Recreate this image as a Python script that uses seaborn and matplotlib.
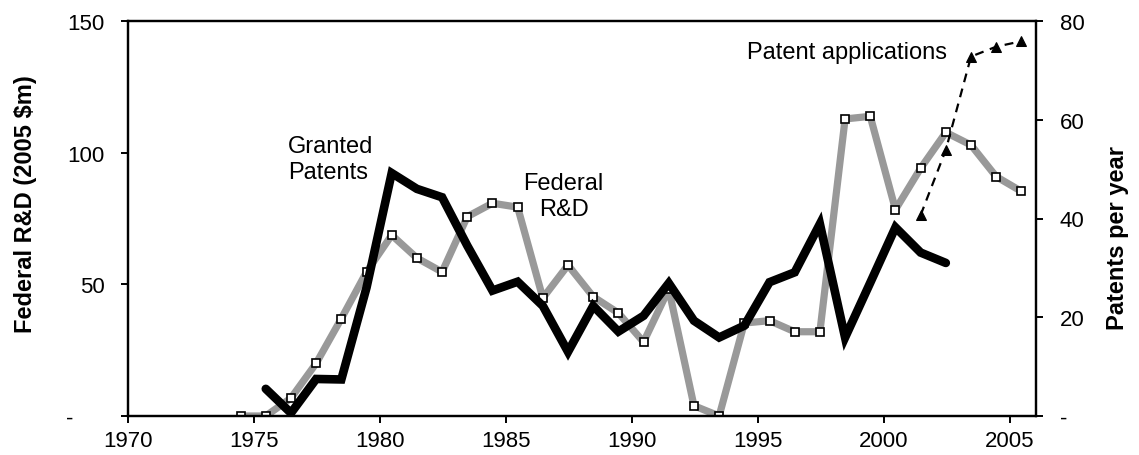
import numpy as np
import pandas as pd
import matplotlib
matplotlib.use("Agg")
import matplotlib.pyplot as plt
import seaborn as sns

# ---- data ----
rd_years = list(range(1974, 2006))
federal_rd = [0, 0, 6.8, 20, 37, 54.7, 68.7, 60, 54.7, 75.7, 80.8, 79.3, 44.8, 57.3,
              45.3, 39.1, 28.1, 48.2, 3.9, 0, 35.3, 36.2, 32, 32, 112.8, 113.8,
              78.4, 94.1, 107.7, 102.9, 90.9, 85.3]

pat_years = list(range(1975, 2003))
granted_patents = [5.5, 0.6, 7.5, 7.4, 26, 49.2, 46, 44.3, 34.5, 25.4, 27.2, 22.3, 13.0,
                   22.3, 17.1, 20.3, 26.9, 19.3, 15.9, 18.3, 27.1, 29.1, 38.9, 15.9,
                   27, 38.2, 33.1, 31.0]

app_years = [2001, 2002, 2003, 2004, 2005]
patent_applications = [40.7, 53.9, 72.8, 74.8, 75.9]

x_ticks = [1970, 1975, 1980, 1985, 1990, 1995, 2000, 2005]
left_ticks = [0, 50, 100, 150]
left_labels = ["-     ", "50", "100", "150"]
right_ticks = [0, 20, 40, 60, 80]
right_labels = ["-", "20", "40", "60", "80"]

sns.set_style("ticks")
plt.rcParams['font.family'] = ['Liberation Sans', 'DejaVu Sans']
plt.rcParams['text.color'] = 'black'
plt.rcParams['axes.labelcolor'] = 'black'
plt.rcParams['xtick.color'] = 'black'
plt.rcParams['ytick.color'] = 'black'

W, H = 1139, 456
fig = plt.figure(figsize=(W / 100, H / 100), dpi=100)
ax = fig.add_axes([128 / W, 1 - 417 / H, (1036 - 128) / W, (417 - 22) / H])
ax2 = ax.twinx()

off = 0.47  # values plotted mid-year
sns.lineplot(x=np.array(rd_years) + off, y=federal_rd, ax=ax, color="#999999", lw=5.2,
             marker="s", markersize=5.5, markerfacecolor="white",
             markeredgecolor="black", markeredgewidth=1.2, zorder=2)
sns.lineplot(x=np.array(pat_years) + off, y=granted_patents, ax=ax2, color="black",
             lw=6.2, solid_joinstyle="miter", zorder=3)
sns.lineplot(x=np.array(app_years) + off, y=patent_applications, ax=ax2, color="black",
             lw=1.6, linestyle=(0, (4, 3)), marker="^", markersize=6.5,
             markeredgecolor="black", zorder=3)

ax.set_xlim(1970, 2006.05)
ax.set_ylim(0, 150)
ax2.set_ylim(0, 80)
ax.set_xticks(x_ticks)
ax.set_xticklabels([str(t) for t in x_ticks])
ax.set_yticks(left_ticks)
ax.set_yticklabels(left_labels)
ax2.set_yticks(right_ticks)
ax2.set_yticklabels(right_labels)

for a in (ax, ax2):
    for s in a.spines.values():
        s.set_visible(True)
        s.set_linewidth(1.6)
        s.set_color("black")
    a.set_xlabel("")
ax.tick_params(axis="both", direction="out", length=5, width=1.4, labelsize=16,
               colors="black")
ax.tick_params(axis="x", pad=5)
ax.tick_params(axis="y", pad=12)
ax2.tick_params(axis="y", direction="out", length=5, width=1.4, labelsize=16,
                pad=12, colors="black")

ax.set_ylabel("Federal R&D (2005 $m)", fontsize=17, fontweight="bold", color="black")
ax2.set_ylabel("Patents per year", fontsize=17, fontweight="bold", color="black")
ax.yaxis.set_label_coords(-91 / 908, (417 - 204) / 395)
ax2.yaxis.set_label_coords(1 + 70 / 908, (417 - 238) / 395)

ax.text(1976.35, 97.5, "Granted\nPatents", fontsize=17, ha="left", va="center",
        linespacing=1.25, color="black")
ax.text(1987.3, 83.5, "Federal\nR&D", fontsize=17, ha="center", va="center",
        linespacing=1.25, color="black")
ax.text(1998.55, 136, "Patent applications", fontsize=17, ha="center", va="baseline",
        color="black")

fig.savefig("out.png", dpi=100)
